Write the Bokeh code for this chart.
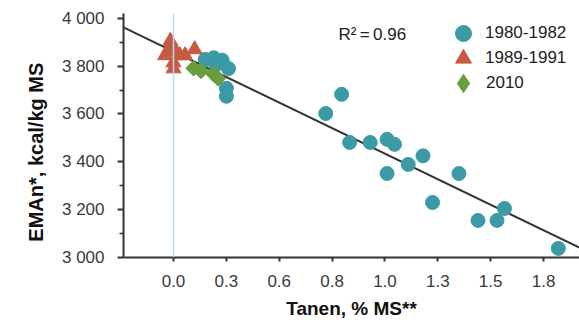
import math
from bokeh.plotting import figure
from bokeh.models import Legend, LegendItem, Span, Label, FixedTicker, Range1d
from bokeh.embed import file_html
from bokeh.resources import INLINE

# ---- data ----
x_1980 = [0.15, 0.19, 0.23, 0.26, 0.20, 0.25, 0.25, 0.72, 0.795, 0.833, 0.93, 1.01, 1.045,
          1.18, 1.01, 1.11, 1.35, 1.225, 1.44, 1.53, 1.565, 1.82]
y_1980 = [3828, 3835, 3825, 3790, 3805, 3707, 3674, 3602, 3682, 3481, 3481, 3494, 3473,
          3425, 3351, 3389, 3351, 3230, 3155, 3155, 3205, 3038]
x_1989 = [-0.015, -0.02, 0.01, 0.03, -0.04, 0.0, 0.055, 0.10, 0.0]
y_1989 = [3905, 3875, 3862, 3845, 3845, 3815, 3845, 3870, 3790]
x_2010 = [0.095, 0.13, 0.19, 0.21]
y_2010 = [3791, 3780, 3766, 3749]
fit_intercept = 3861
fit_slope = -427
r2_text = "R\u00b2\u2009=\u20090.96"
x_ticks = [0, 0.25, 0.5, 0.75, 1.0, 1.25, 1.5, 1.75]
x_tick_labels = ["0.0", "0.3", "0.6", "0.8", "1.0", "1.3", "1.5", "1.8"]
y_ticks = [3000, 3200, 3400, 3600, 3800, 4000]
y_tick_labels = ["3 000", "3 200", "3 400", "3 600", "3 800", "4 000"]
series_names = ["1980-1982", "1989-1991", "2010"]

TEAL = "#3b9aa5"
RED = "#c65a43"
GREEN = "#6a9e3c"
DARK = "#333333"
FONT = "Liberation Sans"

x0, x1 = -0.2365, 1.92
p = figure(width=579, height=323, output_backend="svg", toolbar_location=None,
           x_range=Range1d(x0, x1), y_range=Range1d(3000, 4020),
           min_border_left=123, min_border_right=0, min_border_top=13, min_border_bottom=66)
p.outline_line_color = None
p.xgrid.grid_line_color = None
p.ygrid.grid_line_color = None
p.background_fill_color = "white"
p.border_fill_color = "white"

# axes
p.xaxis.ticker = FixedTicker(ticks=x_ticks)
p.xaxis.major_label_overrides = dict(zip(x_ticks, x_tick_labels))
p.yaxis.ticker = FixedTicker(ticks=y_ticks, minor_ticks=[3100, 3300, 3500, 3700, 3900])
p.yaxis.major_label_overrides = dict(zip(y_ticks, y_tick_labels))
for ax in (p.xaxis, p.yaxis):
    ax.axis_line_color = DARK
    ax.axis_line_width = 2
    ax.major_tick_line_color = DARK
    ax.major_tick_line_width = 2
    ax.minor_tick_line_color = DARK
    ax.minor_tick_line_width = 1.5
    ax.major_tick_in = 0
    ax.minor_tick_in = 0
    ax.major_label_text_font = FONT
    ax.major_label_text_font_size = "17px"
    ax.major_label_text_color = "#3a3a3a"
    ax.axis_label_text_font = FONT
    ax.axis_label_text_font_style = "bold"
    ax.axis_label_text_color = "#111111"
p.xaxis.axis_label_text_font_size = "19px"
p.yaxis.axis_label_text_font_size = "20px"
p.xaxis.major_tick_out = 4
p.xaxis.minor_tick_out = 0
p.xaxis.major_label_standoff = 13
p.yaxis.major_tick_out = 6
p.yaxis.minor_tick_out = 4
p.yaxis.major_label_standoff = 13
p.xaxis.axis_label = "Tanen, % MS**"
p.xaxis.axis_label_standoff = 8
p.yaxis.axis_label = "EMAn*, kcal/kg MS" + "\u00a0" * 6
p.yaxis.axis_label_standoff = 12

# zero reference line
p.add_layout(Span(location=0, dimension="height", line_color="#b5dcf0", line_width=1.5))

# regression line
p.line([x0, x1], [fit_intercept + fit_slope * x0, fit_intercept + fit_slope * x1],
       line_color=DARK, line_width=2)

r1 = p.scatter(x_1980, y_1980, marker="circle", size=14, fill_color=TEAL, line_color=TEAL)
r2 = p.scatter(x_1989, y_1989, marker="triangle", size=15, fill_color=RED, line_color=RED)
# diamond key for the legend (legend glyphs ignore marker angle); it sits fully
# underneath the rotated squares drawn next
r3_key = p.scatter(x_2010, y_2010, marker="diamond", size=14,
                   fill_color=GREEN, line_color=GREEN)
r3 = p.scatter(x_2010, y_2010, marker="square", size=11, angle=math.pi / 4,
               fill_color=GREEN, line_color=GREEN)

# one legend per row so rows can sit closer than the glyph box height
legend_specs = [(r1, series_names[0], 40, 320, 204, 2),
                (r2, series_names[1], 40, 320, 179, 2),
                (r3_key, series_names[2], 46, 317, 151, -1)]
for renderer, name, gsize, loc_x, loc_y, standoff in legend_specs:
    lg = Legend(items=[LegendItem(label=name, renderers=[renderer])],
                location=(loc_x, loc_y), orientation="vertical",
                glyph_width=gsize, glyph_height=gsize, padding=0, margin=0,
                label_standoff=standoff, label_text_font=FONT, label_text_font_size="17px",
                label_text_color="#222222", border_line_color=None,
                background_fill_alpha=0)
    p.add_layout(lg, "center")

p.add_layout(Label(x=0.78, y=3933, text=r2_text, text_font=FONT, text_font_size="17px",
                   text_color="#222222", text_baseline="middle"))

open("out.html", "w").write(file_html(p, INLINE))
